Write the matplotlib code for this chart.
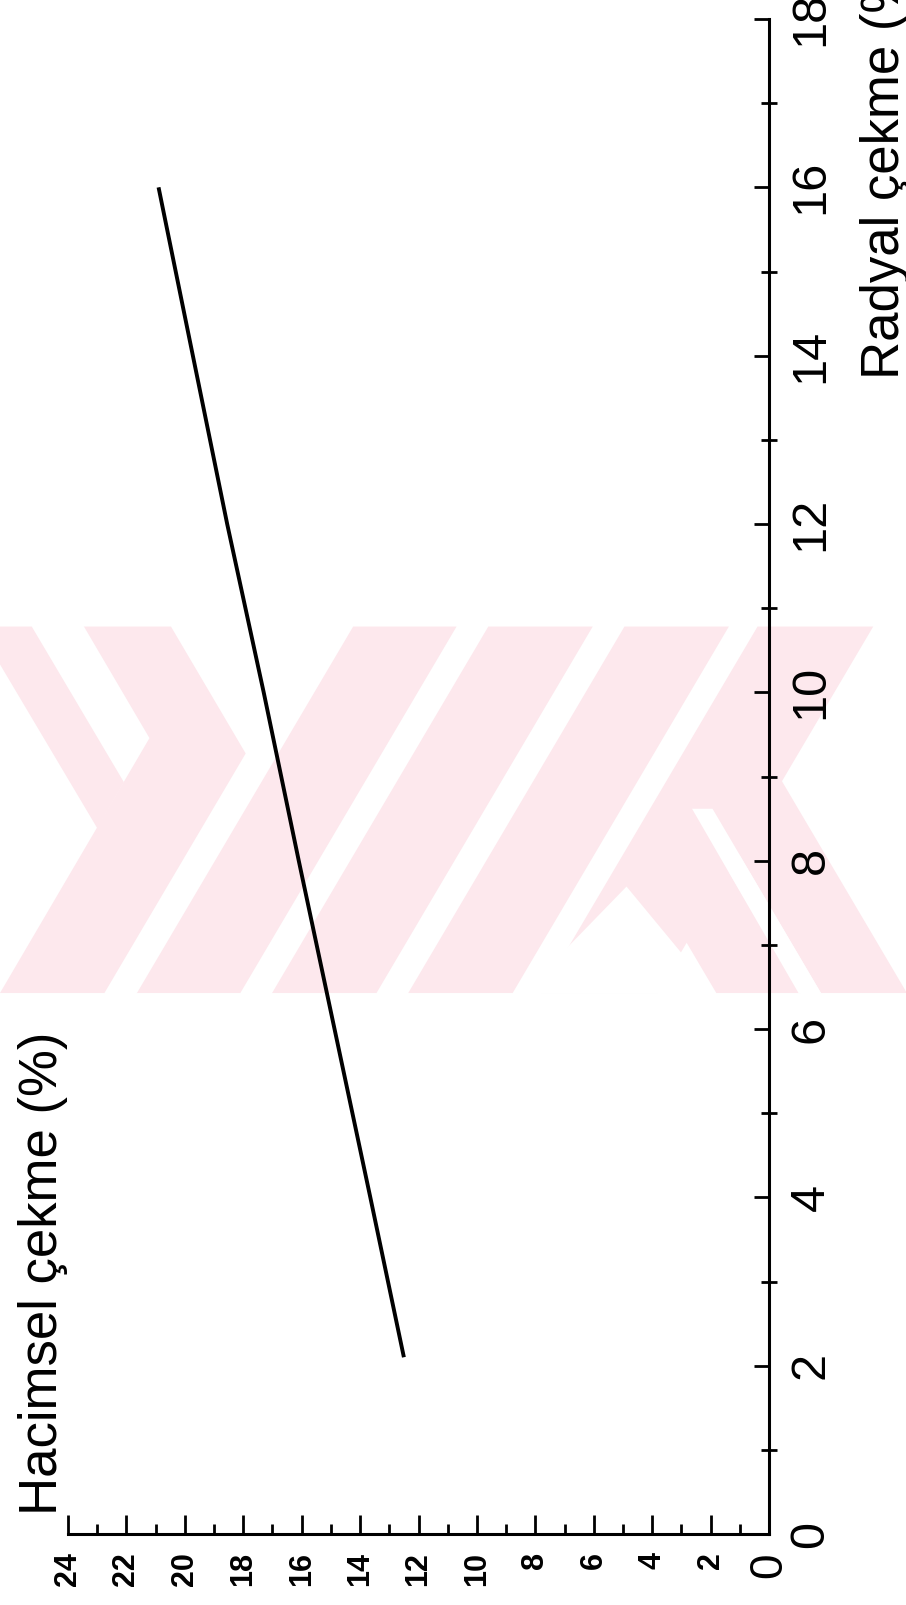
import numpy as np
import matplotlib
matplotlib.use("Agg")
import matplotlib.pyplot as plt
from matplotlib.patches import Polygon
from matplotlib.ticker import MultipleLocator

# veri: radyal çekme (%) -> hacimsel çekme (%)
radyal = [2.1, 4.0, 8.0, 10.0, 12.0, 16.0]
hacimsel = [12.5, 13.65, 16.1, 17.3, 18.55, 20.9]

radyal_ticks = list(range(0, 19, 2))
hacimsel_ticks = list(range(0, 25, 2))

W, H = 906, 1605
k = W / 885.0  # taslak olculeri 885 genislikten
fig = plt.figure(figsize=(W / 100, H / 100), dpi=100)

# arka plandaki soluk pembe filigran
pink = "#fde8ed"
top, bot = 612, 970
s = 0.59


def slash(xa, xb, y_from=top, y_to=bot):
    # "/" bant: ustte xa..xb, asagi indikce sola kayar
    return [(xa - s * (y_from - top), y_from), (xb - s * (y_from - top), y_from),
            (xb - s * (y_to - top), y_to), (xa - s * (y_to - top), y_to)]


def backslash(xa, xb, y_from, y_to):
    return [(xa, y_from), (xb, y_from),
            (xb + s * (y_to - y_from), y_to), (xa + s * (y_to - y_from), y_to)]


wm = [
    # ">" kosegen
    ([(82, top), (167, top), (240, 736), (102, bot), (0, bot), (146, 721)], pink),
    ([(-22, top), (31, top), (121, 764), (95, 809)], pink),
    (slash(345, 446), pink),
    (slash(477, 579), pink),
    (slash(610, 712), pink),
    (slash(740, 853), pink),
    (backslash(623, 705, 840, bot), pink),
    (backslash(678, 762, 760, bot), pink),
    # beyaz yarik ve centik
    ([(676, 790), (696, 790), (802, bot), (780, bot)], "white"),
    ([(612, 866), (698, bot), (511, bot)], "white"),
]
for pts, col in wm:
    pts = [(x * k / W, 1 - y * k / H) for x, y in pts]
    fig.patches.append(Polygon(pts, closed=True, transform=fig.transFigure,
                               facecolor=col, edgecolor="none", zorder=0))

# eksen: yatay = hacimsel (ters), dikey = radyal
x0, x24 = 769, 68
y0, y18 = 1534, 19
ax = fig.add_axes([x24 / W, 1 - y0 / H, (x0 - x24) / W, (y0 - y18) / H])
ax.patch.set_alpha(0)
ax.set_zorder(2)

ax.plot(hacimsel, radyal, color="black", lw=2.8, solid_capstyle="butt")

ax.set_xlim(24, 0)
ax.set_ylim(0, 18)
for side in ("left", "top"):
    ax.spines[side].set_visible(False)
ax.spines["right"].set_linewidth(2.2)
ax.spines["bottom"].set_linewidth(2.2)

ax.yaxis.tick_right()
ax.set_yticks(radyal_ticks)
ax.yaxis.set_minor_locator(MultipleLocator(1))
ax.tick_params(axis="y", which="major", direction="in", length=11, width=2,
               pad=14, labelrotation=90, labelsize=35)
ax.tick_params(axis="y", which="minor", direction="inout", length=12, width=2)

ax.set_xticks(hacimsel_ticks)
ax.xaxis.set_minor_locator(MultipleLocator(1))
ax.tick_params(axis="x", which="major", direction="in", length=14, width=2,
               pad=13, labelrotation=90, labelsize=22)
ax.tick_params(axis="x", which="minor", direction="in", length=7, width=2)

for lab in ax.get_yticklabels():
    lab.set_family(["Liberation Sans", "DejaVu Sans"])
    lab.set_va("center")
for lab in ax.get_xticklabels():
    lab.set_family(["Liberation Sans", "DejaVu Sans"])
    lab.set_weight("bold")
ax.get_xticklabels()[0].set_fontsize(33)
ax.get_xticklabels()[0].set_weight("normal")

fam = ["Liberation Sans", "DejaVu Sans"]
fig.text(899 / W, 1 - 379 / H, "Radyal çekme (%)", rotation=90,
         rotation_mode="anchor", ha="left", va="baseline", fontsize=38, family=fam)
fig.text(57 / W, 1 - 1515 / H, "Hacimsel çekme (%)", rotation=90,
         rotation_mode="anchor", ha="left", va="baseline", fontsize=38, family=fam)

fig.savefig("out.png", dpi=100, facecolor="white")
